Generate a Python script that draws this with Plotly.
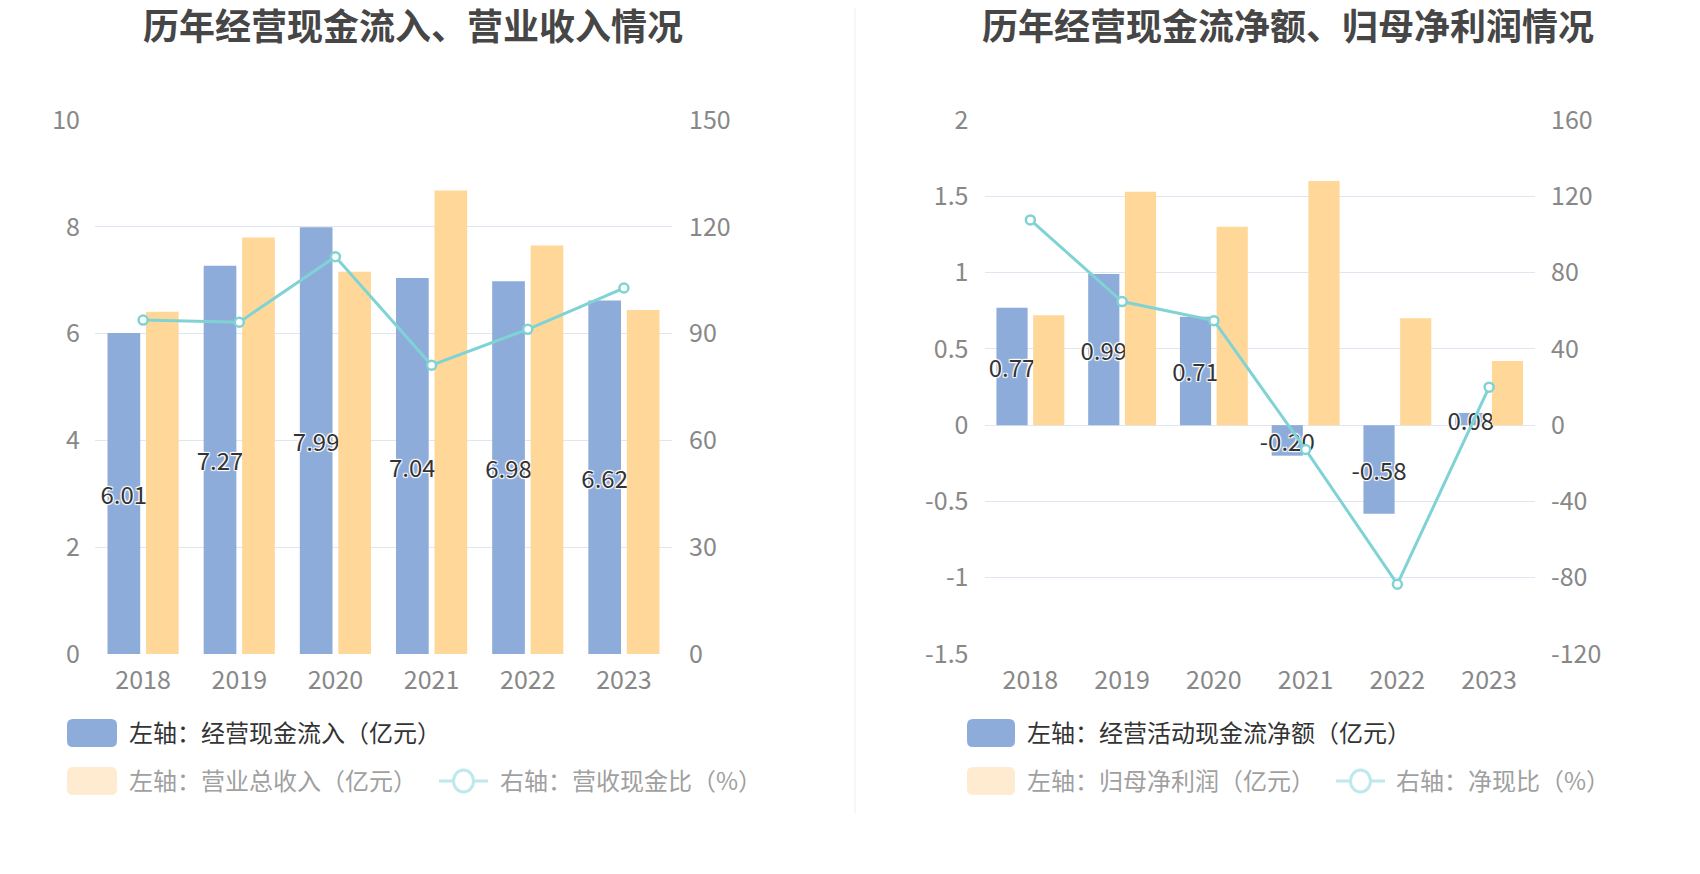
import plotly.graph_objects as go

W, H = 1700, 874
OFF = 8  # page body margin in the rendered html

# ---------------- data ----------------
years = ["2018", "2019", "2020", "2021", "2022", "2023"]
cash_inflow = [6.01, 7.27, 7.99, 7.04, 6.98, 6.62]        # 经营现金流入（亿元）
revenue = [6.41, 7.80, 7.16, 8.68, 7.65, 6.44]            # 营业总收入（亿元）
cash_ratio = [93.8, 93.2, 111.6, 81.1, 91.2, 102.8]       # 营收现金比（%）
net_cash = [0.77, 0.99, 0.71, -0.20, -0.58, 0.08]         # 经营活动现金流净额（亿元）
net_profit = [0.72, 1.53, 1.30, 1.60, 0.70, 0.42]         # 归母净利润（亿元）
net_ratio = [107.6, 64.8, 54.8, -12.8, -83.4, 19.9]       # 净现比（%）

left_ticks = [0, 2, 4, 6, 8, 10]
left_ticks_r = [0, 30, 60, 90, 120, 150]
right_ticks = [-1.5, -1, -0.5, 0, 0.5, 1, 1.5, 2]
right_tick_text = ["-1.5", "-1", "-0.5", "0", "0.5", "1", "1.5", "2"]
right_ticks_r = [-120, -80, -40, 0, 40, 80, 120, 160]
right_tick_text_r = ["-120", "-80", "-40", "0", "40", "80", "120", "160"]

titles = ["历年经营现金流入、营业收入情况", "历年经营现金流净额、归母净利润情况"]
legend_left = ["左轴：经营现金流入（亿元）", "左轴：营业总收入（亿元）", "右轴：营收现金比（%）"]
legend_right = ["左轴：经营活动现金流净额（亿元）", "左轴：归母净利润（亿元）", "右轴：净现比（%）"]

# ---------------- style ----------------
FONT = "Noto Sans CJK SC"
BLUE = "#8EACDA"
ORANGE = "#FFD899"
TEAL = "#7FD3D5"
GRID = "#E0E6F1"
AXIS = "#6E7079"
TICKC = "#888888"
ORANGE_FADE = "#FFEBCF"
TEAL_FADE = "#BDE9EA"

def px(x):
    return (x - OFF) / W

def py(y):
    return 1 - (y - OFF) / H

xs = list(range(len(years)))
xdom_l = [px(95), px(672)]
xdom_r = [px(984.5), px(1535)]
ydom = [py(654), py(120)]
xrange_ = [-0.5, len(years) - 0.5]

label_font = dict(family=FONT, size=24, color="#333333",
                  shadow="1px 1px 1px #fff, -1px -1px 1px #fff, 1px -1px 1px #fff, -1px 1px 1px #fff")

def bar_labels():
    return dict(texttemplate="%{y:.2f}", textposition="inside", insidetextanchor="middle",
                textangle=0, constraintext="none", textfont=label_font, cliponaxis=False)

fig = go.Figure()

# left chart
fig.add_trace(go.Bar(x=xs, y=cash_inflow, marker=dict(color=BLUE, line=dict(width=0)),
                     xaxis="x", yaxis="y", name=legend_left[0], **bar_labels()))
fig.add_trace(go.Bar(x=xs, y=revenue, marker=dict(color=ORANGE, line=dict(width=0)),
                     xaxis="x", yaxis="y", name=legend_left[1]))
fig.add_trace(go.Scatter(x=xs, y=cash_ratio, mode="lines+markers", xaxis="x", yaxis="y2",
                         line=dict(color=TEAL, width=3),
                         marker=dict(size=9, color="white", line=dict(color=TEAL, width=2.5)),
                         name=legend_left[2]))

# right chart
fig.add_trace(go.Bar(x=xs, y=net_cash, marker=dict(color=BLUE, line=dict(width=0)),
                     xaxis="x2", yaxis="y3", name=legend_right[0], **bar_labels()))
fig.add_trace(go.Bar(x=xs, y=net_profit, marker=dict(color=ORANGE, line=dict(width=0)),
                     xaxis="x2", yaxis="y3", name=legend_right[1]))
fig.add_trace(go.Scatter(x=xs, y=net_ratio, mode="lines+markers", xaxis="x2", yaxis="y4",
                         line=dict(color=TEAL, width=3),
                         marker=dict(size=9, color="white", line=dict(color=TEAL, width=2.5)),
                         name=legend_right[2]))

tickfont = dict(family=FONT, size=25, color=TICKC)

# zero position of right chart in paper coords
r0 = ydom[0] + (0 - right_ticks[0]) / (right_ticks[-1] - right_ticks[0]) * (ydom[1] - ydom[0])

hidden_ticks = dict(ticks="outside", tickcolor="rgba(0,0,0,0)", automargin=False)
mark_ticks = dict(showticklabels=False, showgrid=False, zeroline=False, showline=True,
                  linecolor=AXIS, linewidth=2, ticks="outside", ticklen=8, tickcolor=AXIS,
                  tickwidth=1.5, automargin=False)

fig.update_layout(
    width=W, height=H,
    margin=dict(l=0, r=0, t=0, b=0, autoexpand=False),
    paper_bgcolor="white", plot_bgcolor="white",
    showlegend=False,
    barmode="group", bargap=0.2, bargroupgap=0.15,
    font=dict(family=FONT),
    # left chart: labels axis + tick-mark axis
    xaxis=dict(domain=xdom_l, anchor="y", range=xrange_, tickvals=xs, ticktext=years,
               showgrid=False, zeroline=False, showline=False, tickfont=tickfont,
               ticklen=4, **hidden_ticks),
    xaxis4=dict(overlaying="x", anchor="free", position=ydom[0], range=xrange_, tickvals=xs,
                **mark_ticks),
    yaxis=dict(domain=ydom, anchor="x", range=[0, 10], tickvals=left_ticks,
               showgrid=True, gridcolor=GRID, gridwidth=1, zeroline=False, showline=False,
               tickfont=tickfont, ticklen=9, **hidden_ticks),
    yaxis2=dict(overlaying="y", side="right", anchor="x", range=[0, 150], tickvals=left_ticks_r,
                showgrid=False, zeroline=False, showline=False,
                tickfont=tickfont, ticklen=11, **hidden_ticks),
    # right chart
    xaxis2=dict(domain=xdom_r, anchor="y3", range=xrange_, tickvals=xs, ticktext=years,
                showgrid=False, zeroline=False, showline=False, tickfont=tickfont,
                ticklen=4, **hidden_ticks),
    xaxis3=dict(overlaying="x2", anchor="free", position=r0, range=xrange_, tickvals=xs,
                **mark_ticks),
    yaxis3=dict(domain=ydom, anchor="x2", range=[right_ticks[0], right_ticks[-1]],
                tickvals=right_ticks, ticktext=right_tick_text,
                showgrid=True, gridcolor=GRID, gridwidth=1, zeroline=False, showline=False,
                tickfont=tickfont, ticklen=10, **hidden_ticks),
    yaxis4=dict(overlaying="y3", side="right", anchor="x2",
                range=[right_ticks_r[0], right_ticks_r[-1]],
                tickvals=right_ticks_r, ticktext=right_tick_text_r,
                showgrid=False, zeroline=False, showline=False,
                tickfont=tickfont, ticklen=10, **hidden_ticks),
)

annotations = []
shapes = []

# titles
for cx, t in zip([413, 1288], titles):
    annotations.append(dict(x=px(cx), y=py(23.5), xref="paper", yref="paper", text="<b>" + t + "</b>",
                            showarrow=False, xanchor="center", yanchor="middle", height=40,
                            font=dict(family=FONT, size=36, color="#464646")))

# divider
shapes.append(dict(type="line", xref="paper", yref="paper", x0=px(855), x1=px(855),
                   y0=py(0), y1=py(813), line=dict(color="#EEEEEE", width=1)))

def rrect(x0, y0, x1, y1, r, color):
    X = lambda v: px(v)
    Y = lambda v: py(v)
    path = (f"M {X(x0 + r)},{Y(y0)} L {X(x1 - r)},{Y(y0)} Q {X(x1)},{Y(y0)} {X(x1)},{Y(y0 + r)} "
            f"L {X(x1)},{Y(y1 - r)} Q {X(x1)},{Y(y1)} {X(x1 - r)},{Y(y1)} "
            f"L {X(x0 + r)},{Y(y1)} Q {X(x0)},{Y(y1)} {X(x0)},{Y(y1 - r)} "
            f"L {X(x0)},{Y(y0 + r)} Q {X(x0)},{Y(y0)} {X(x0 + r)},{Y(y0)} Z")
    return dict(type="path", xref="paper", yref="paper", path=path,
                fillcolor=color, line=dict(width=0))

def legend_block(sx0, sx1, tx, lx0, lx1, ltx, labels):
    r1, r2 = 733, 781
    t1, t2 = 731, 779
    shapes.append(rrect(sx0, r1 - 14, sx1, r1 + 14, 6, BLUE))
    annotations.append(dict(x=px(tx), y=py(t1), xref="paper", yref="paper", text=labels[0],
                            showarrow=False, xanchor="left", yanchor="middle",
                            font=dict(family=FONT, size=24, color="#333333")))
    shapes.append(rrect(sx0, r2 - 14, sx1, r2 + 14, 6, ORANGE_FADE))
    annotations.append(dict(x=px(tx), y=py(t2), xref="paper", yref="paper", text=labels[1],
                            showarrow=False, xanchor="left", yanchor="middle",
                            font=dict(family=FONT, size=24, color="#A0A0A0")))
    shapes.append(dict(type="line", xref="paper", yref="paper", x0=px(lx0), x1=px(lx1),
                       y0=py(r2), y1=py(r2), line=dict(color=TEAL_FADE, width=3)))
    cx = (lx0 + lx1) / 2
    shapes.append(dict(type="circle", xref="paper", yref="paper", x0=px(cx - 10), x1=px(cx + 10),
                       y0=py(r2 - 11), y1=py(r2 + 11), fillcolor="white",
                       line=dict(color=TEAL_FADE, width=3)))
    annotations.append(dict(x=px(ltx), y=py(t2), xref="paper", yref="paper", text=labels[2],
                            showarrow=False, xanchor="left", yanchor="middle",
                            font=dict(family=FONT, size=24, color="#A0A0A0")))

legend_block(67, 117, 127, 439, 488, 498, legend_left)
legend_block(967, 1015, 1025, 1336, 1385, 1394, legend_right)

fig.update_layout(annotations=annotations, shapes=shapes)

fig.write_html("out.html")
